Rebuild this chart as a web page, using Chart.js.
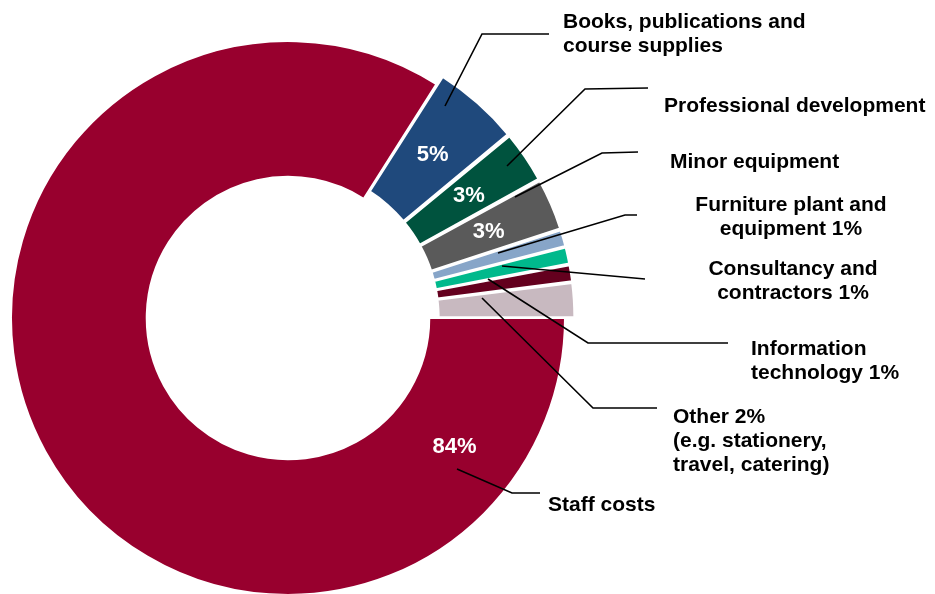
<!DOCTYPE html>
<html>
<head>
<meta charset="utf-8">
<script src="https://cdn.jsdelivr.net/npm/chart.js@4"></script>
<style>
  html, body { margin: 0; padding: 0; background: #fff; }
</style>
</head>
<body>
<canvas id="spendChart" width="935" height="594"></canvas>
<script>
// Spending breakdown (percent of total)
const categories = [
  'Staff costs',
  'Books, publications and course supplies',
  'Professional development',
  'Minor equipment',
  'Furniture plant and equipment',
  'Consultancy and contractors',
  'Information technology',
  'Other'
];
const shares = [84, 5, 3, 3, 1, 1, 1, 2];
const sliceColors = ['#98002E', '#1F497C', '#00533E', '#5A5A5A', '#87A5C8', '#00B98C', '#64001E', '#C8B9C0'];
// everything but staff costs is pulled out of the ring
const explode = [0, 22.5, 21, 21, 19.5, 19.5, 19.5, 20];

// slices that carry their percentage inside the arc
const insideLabel = [true, true, true, true, false, false, false, false];

// callout text and leader lines
const callouts = [
  { x: 563, y: [28, 52], align: 'left', lines: ['Books, publications and', 'course supplies'],
    path: [[445, 106], [482, 34], [549, 34]] },
  { x: 664, y: [112], align: 'left', lines: ['Professional development'],
    path: [[507, 166], [585, 89], [648, 88]] },
  { x: 670, y: [168], align: 'left', lines: ['Minor equipment'],
    path: [[515, 197], [602, 153], [638, 152]] },
  { x: 791, y: [211, 235], align: 'center', lines: ['Furniture plant and', 'equipment 1%'],
    path: [[498, 253], [625, 215], [637, 215]] },
  { x: 793, y: [275, 299], align: 'center', lines: ['Consultancy and', 'contractors 1%'],
    path: [[502, 266], [645, 279]] },
  { x: 751, y: [355, 379], align: 'left', lines: ['Information', 'technology 1%'],
    path: [[488, 279], [588, 343], [728, 343]] },
  { x: 673, y: [423, 447, 471], align: 'left', lines: ['Other 2%', '(e.g. stationery,', 'travel, catering)'],
    path: [[482, 298], [593, 408], [657, 408]] },
  { x: 548, y: [511], align: 'left', lines: ['Staff costs'],
    path: [[457, 469], [512, 493], [540, 493]] }
];

const FONT = '"Liberation Sans", Arial, sans-serif';

// how far Chart.js pushes an exploded arc out along its bisector
function explodeShift(arc, off) {
  const q = off / 4;
  const span = arc.endAngle - arc.startAngle;
  return q + q * (1 - Math.sin(Math.min(Math.PI, span)));
}

const labelPlugin = {
  id: 'spendLabels',
  afterDatasetsDraw(chart) {
    const ctx = chart.ctx;
    const arcs = chart.getDatasetMeta(0).data;
    ctx.save();

    // percentages inside the slices
    ctx.fillStyle = '#fff';
    ctx.font = 'bold 22px ' + FONT;
    ctx.textAlign = 'center';
    ctx.textBaseline = 'middle';
    arcs.forEach((arc, i) => {
      if (!insideLabel[i]) return;
      let ang = (arc.startAngle + arc.endAngle) / 2;
      let r = (arc.innerRadius + arc.outerRadius) / 2 + explodeShift(arc, explode[i]);
      if (i === 0) {
        // the big slice keeps its label down on the right side
        ang = Math.PI * 37.5 / 180;
        r = 210;
      }
      ctx.fillText(shares[i] + '%', arc.x + Math.cos(ang) * r, arc.y + Math.sin(ang) * r + 1);
    });

    // leader lines
    ctx.strokeStyle = '#000';
    ctx.lineWidth = 1.6;
    callouts.forEach(c => {
      ctx.beginPath();
      c.path.forEach((pt, k) => k ? ctx.lineTo(pt[0], pt[1]) : ctx.moveTo(pt[0], pt[1]));
      ctx.stroke();
    });

    // callout text
    ctx.fillStyle = '#000';
    ctx.font = 'bold 21px ' + FONT;
    ctx.textBaseline = 'alphabetic';
    callouts.forEach(c => {
      ctx.textAlign = c.align;
      c.lines.forEach((t, k) => ctx.fillText(t, c.x, c.y[k]));
    });
    ctx.restore();
  }
};

new Chart(document.getElementById('spendChart'), {
  type: 'doughnut',
  data: {
    labels: categories,
    datasets: [{
      data: shares,
      backgroundColor: sliceColors,
      borderColor: '#fff',
      borderWidth: 2,
      offset: explode,
      clip: false
    }]
  },
  options: {
    responsive: false,
    animation: false,
    rotation: 90,
    radius: 277,
    cutout: '51%',
    layout: { padding: { left: 0, right: 359, top: 42, bottom: 0 } },
    plugins: {
      legend: { display: false },
      tooltip: { enabled: false }
    }
  },
  plugins: [labelPlugin]
});
</script>
</body>
</html>
